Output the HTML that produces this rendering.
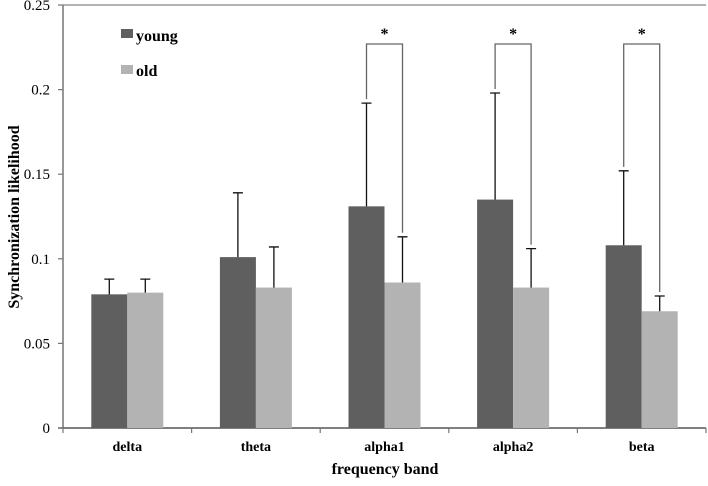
<!DOCTYPE html>
<html><head><meta charset="utf-8"><style>
body{margin:0;background:#fff}
svg{display:block;font-family:"Liberation Serif",serif}
</style></head><body>
<svg id="chart" width="708" height="486" viewBox="0 0 708 486" xmlns="http://www.w3.org/2000/svg">
<g id="axes"></g><g id="bars"></g>
<g>
<rect x="121" y="29" width="12" height="9" fill="#5f5f5f"/>
<text x="136" y="41" font-size="16" font-weight="bold">young</text>
<rect x="121" y="65" width="12" height="9" fill="#b3b3b3"/>
<text x="136" y="76" font-size="16" font-weight="bold">old</text>
</g>
<text x="385" y="474" font-size="16" font-weight="bold" text-anchor="middle">frequency band</text>
<text transform="translate(19,217) rotate(-90)" font-size="16" font-weight="bold" text-anchor="middle">Synchronization  likelihood</text>
</svg>
<script>
const categories=["delta","theta","alpha1","alpha2","beta"];
const young=[0.079,0.101,0.131,0.135,0.108];
const youngErr=[0.009,0.038,0.061,0.063,0.044];
const old=[0.080,0.083,0.086,0.083,0.069];
const oldErr=[0.008,0.024,0.027,0.023,0.009];
const significant=[false,false,true,true,true];
const yTicks=[0,0.05,0.1,0.15,0.2,0.25];
const yTickLabels=["0","0.05","0.1","0.15","0.2","0.25"];
const NS="http://www.w3.org/2000/svg";
const x0=63,x1=706,y0=428,yTop=5,yMax=0.25;
const y=v=>y0-(v/yMax)*(y0-yTop);
const bw=(x1-x0)/categories.length;
const xc=i=>x0+bw*(i+0.5);
function mk(tag,attrs,parent){const e=document.createElementNS(NS,tag);for(const k in attrs)e.setAttribute(k,attrs[k]);parent.appendChild(e);return e;}
const axes=document.getElementById('axes'),bars=document.getElementById('bars');
let e;
e=mk('line',{x1:x0,y1:yTop,x2:x1,y2:yTop,stroke:'#999','stroke-width':1.5},axes);


e=mk('line',{x1:x0,y1:yTop,x2:x0,y2:y0,stroke:'#777','stroke-width':1.5},axes);


e=mk('line',{x1:x0-5,y1:y0,x2:x1,y2:y0,stroke:'#555','stroke-width':1.5},axes);


for(let k=0;k<=categories.length;k++){
 const t=mk('line',{x1:x0+bw*k,y1:y0,x2:x0+bw*k,y2:y0+5,stroke:'#777','stroke-width':1.2},axes);
 
 
}
yTicks.forEach((t,i)=>{
 const tk=mk('line',{x1:x0-5,y1:y(t),x2:x0,y2:y(t),stroke:'#777','stroke-width':1.2},axes);
 
 
 const tx=mk('text',{x:x0-13,y:y(t)+5,'font-size':15,'text-anchor':'end'},axes);
 tx.textContent=yTickLabels[i];
 
 
});
categories.forEach((c,i)=>{
 const cx=xc(i);
 const tx=mk('text',{x:cx,y:451,'font-size':14,'font-weight':'bold','text-anchor':'middle'},axes);
 tx.textContent=c;
 
 
 [[young[i],youngErr[i],cx-36,'#5f5f5f','young'],[old[i],oldErr[i],cx,'#b3b3b3','old']].forEach(([v,er,bx,col,s])=>{
  const r=mk('rect',{x:bx,y:y(v),width:36,height:y0-y(v),fill:col},bars);
  
  
  const mx=bx+18,ty=y(v+er);
  const l=mk('path',{d:`M${mx},${y(v)}V${ty}M${mx-5},${ty}H${mx+5}`,stroke:'#111','stroke-width':1.3,fill:'none'},bars);
  
  
 });
 if(significant[i]){
  const lx=cx-18,rx=cx+18,top=44;
  const b=mk('path',{d:`M${lx},${y(young[i]+youngErr[i])-4}V${top}H${rx}V${y(old[i]+oldErr[i])-4}`,stroke:'#666','stroke-width':1.3,fill:'none'},bars);
  
  
  const st=mk('text',{x:cx,y:39,'font-size':16,'font-weight':'bold','text-anchor':'middle'},bars);
  st.textContent='*';
  
  
 }
});
</script>
</body></html>
